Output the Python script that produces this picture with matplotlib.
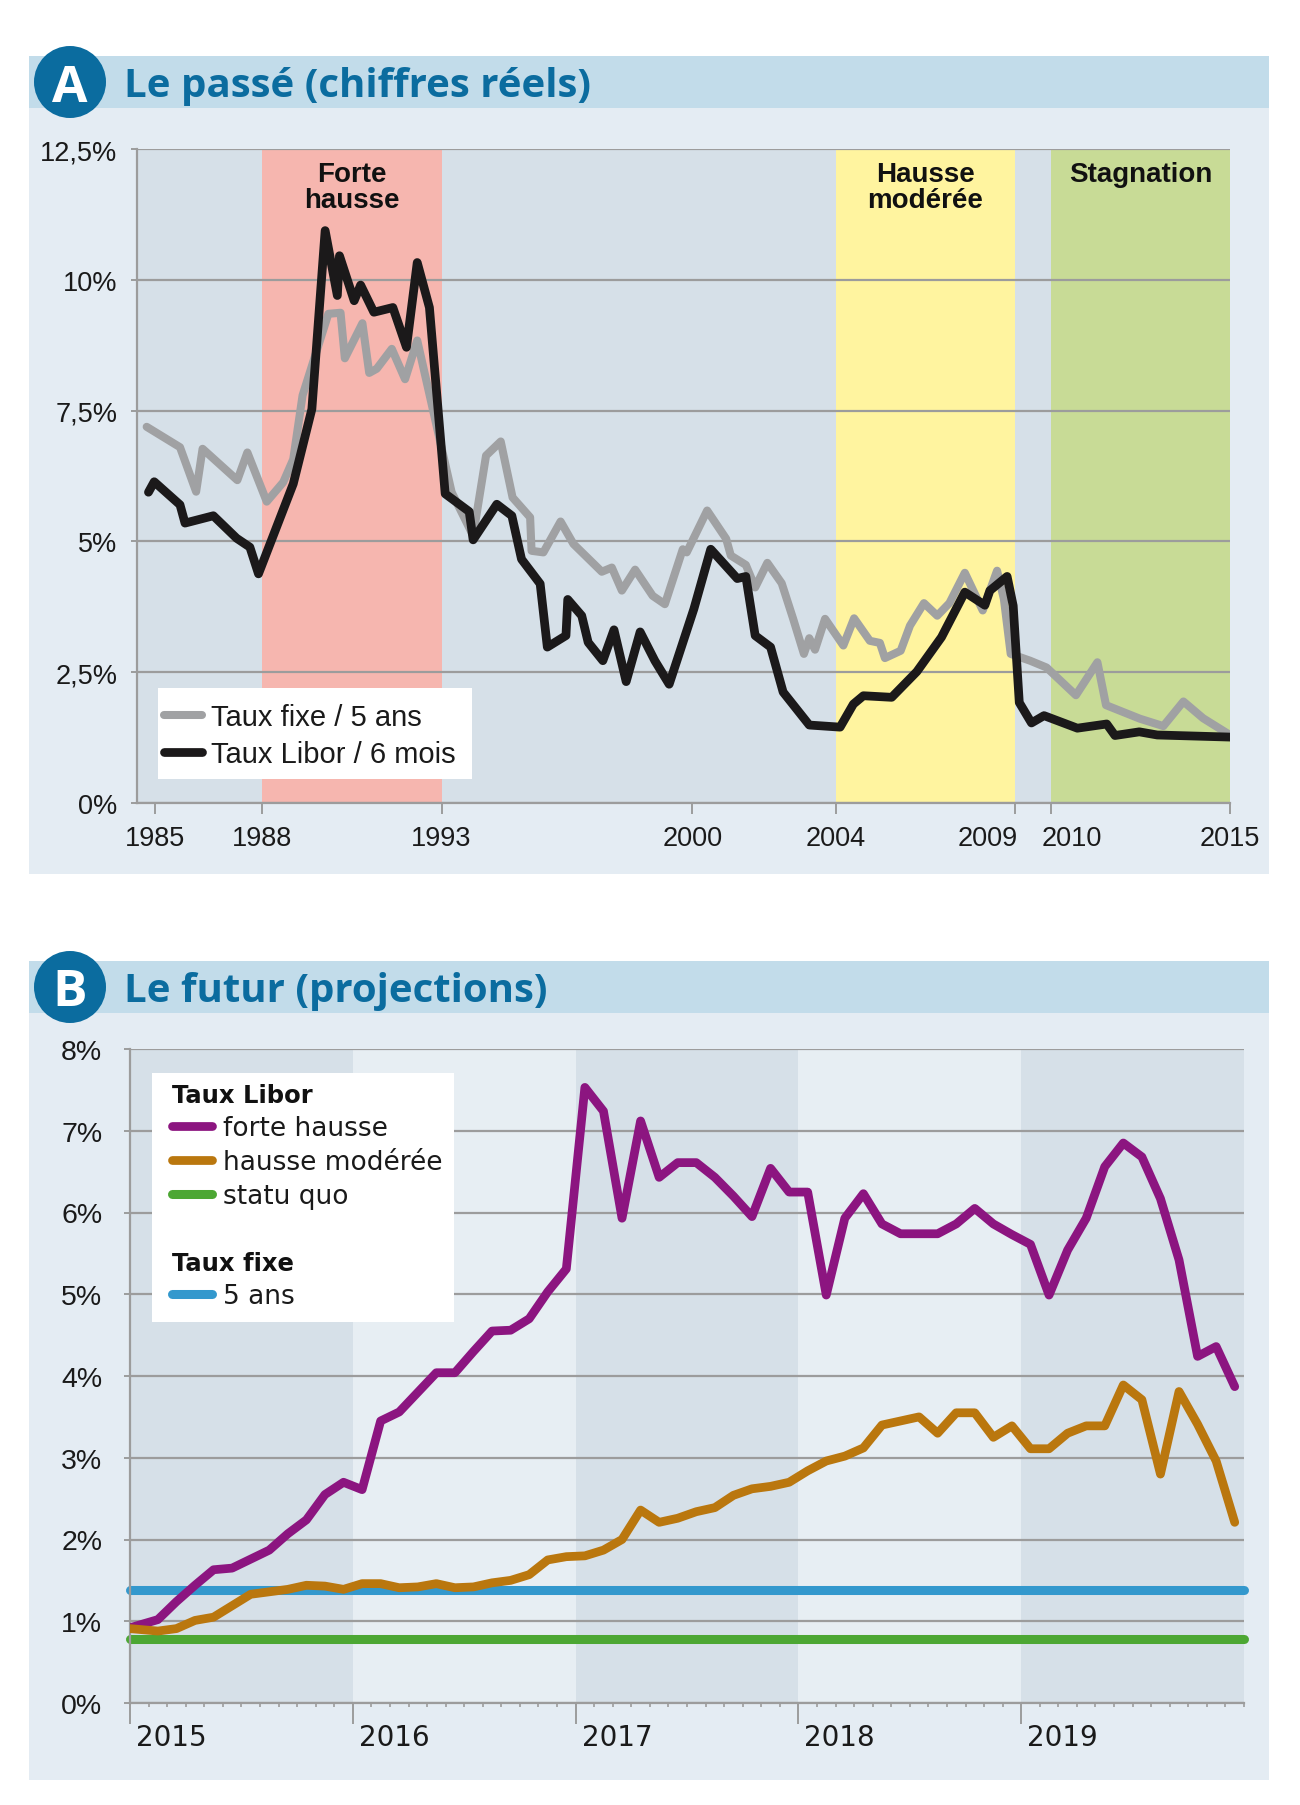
import numpy as np
import matplotlib
matplotlib.use('Agg')
import matplotlib.pyplot as plt
import matplotlib.transforms as mtransforms
from matplotlib.patches import Rectangle, Circle
from matplotlib.ticker import FixedLocator

plt.rcParams['font.family'] = ['Liberation Sans', 'DejaVu Sans']

# ---------------- Panel A data ----------------
fixe_years = [1984.77, 1985.70, 1986.15, 1986.33, 1987.30, 1987.58, 1988.12, 1988.58, 1988.86,
              1989.12, 1989.84, 1990.18, 1990.30, 1990.79, 1990.98, 1991.19, 1991.61, 1991.98,
              1992.32, 1993.28, 1993.88, 1994.24, 1994.65, 1994.98, 1995.47, 1995.51, 1995.84,
              1996.32, 1996.68, 1997.47, 1997.75, 1998.03, 1998.40, 1998.89, 1999.23, 1999.73,
              1999.84, 2000.41, 2000.94, 2001.07, 2001.49, 2001.75, 2002.09, 2002.49, 2002.81,
              2003.11, 2003.26, 2003.42, 2003.70, 2004.21, 2004.51, 2004.95, 2005.23, 2005.37,
              2005.81, 2006.07, 2006.46, 2006.83, 2007.17, 2007.60, 2008.10, 2008.50, 2008.69,
              2008.88, 2009.42, 2009.88, 2010.70, 2011.30, 2011.54, 2012.49, 2013.14, 2013.70,
              2014.25, 2015.00]
fixe_vals = [7.19, 6.80, 5.95, 6.77, 6.17, 6.70, 5.76, 6.13, 6.57,
             7.79, 9.35, 9.37, 8.50, 9.17, 8.22, 8.30, 8.68, 8.10,
             8.84, 5.94, 5.11, 6.64, 6.91, 5.84, 5.46, 4.82, 4.79,
             5.38, 4.95, 4.42, 4.50, 4.06, 4.46, 3.96, 3.80, 4.85,
             4.79, 5.59, 5.05, 4.73, 4.55, 4.12, 4.59, 4.20, 3.52,
             2.85, 3.15, 2.93, 3.52, 3.01, 3.53, 3.10, 3.06, 2.77,
             2.91, 3.39, 3.82, 3.58, 3.82, 4.40, 3.68, 4.44, 3.90,
             2.85, 2.72, 2.59, 2.06, 2.69, 1.87, 1.61, 1.47, 1.94,
             1.62, 1.30]

libor_years = [1984.82, 1984.98, 1985.70, 1985.84, 1986.63, 1987.28, 1987.65, 1987.89, 1988.86,
               1989.38, 1989.75, 1990.09, 1990.15, 1990.56, 1990.74, 1991.11, 1991.64, 1992.02,
               1992.32, 1992.66, 1993.10, 1993.77, 1993.88, 1994.54, 1994.96, 1995.23, 1995.75,
               1995.95, 1996.47, 1996.52, 1996.91, 1997.09, 1997.50, 1997.81, 1998.15, 1998.54,
               1998.95, 1999.35, 2000.04, 2000.51, 2001.25, 2001.49, 2001.75, 2002.18, 2002.53,
               2003.26, 2004.12, 2004.49, 2004.77, 2005.56, 2006.26, 2006.95, 2007.60, 2008.16,
               2008.30, 2008.78, 2008.95, 2009.12, 2009.46, 2009.81, 2010.74, 2011.56, 2011.79,
               2012.47, 2012.97, 2015.00]
libor_vals = [5.94, 6.14, 5.70, 5.35, 5.49, 5.06, 4.89, 4.38, 6.10,
              7.53, 10.94, 9.70, 10.46, 9.60, 9.90, 9.38, 9.47, 8.71,
              10.33, 9.47, 5.91, 5.57, 5.03, 5.71, 5.49, 4.66, 4.19,
              2.98, 3.20, 3.89, 3.58, 3.07, 2.72, 3.31, 2.32, 3.27,
              2.72, 2.27, 3.71, 4.85, 4.29, 4.33, 3.20, 2.98, 2.12,
              1.49, 1.45, 1.89, 2.05, 2.02, 2.51, 3.17, 4.03, 3.78,
              4.06, 4.33, 3.77, 1.92, 1.53, 1.67, 1.43, 1.51, 1.29,
              1.36, 1.30, 1.26]

a_xticks = [1985, 1988, 1993, 2000, 2004, 2009, 2010, 2015]
a_xlabels = ['1985', '1988', '1993', '2000', '2004', '2009', '2010', '2015']
a_yticks = [0, 2.5, 5, 7.5, 10, 12.5]
a_ylabels = ['0%', '2,5%', '5%', '7,5%', '10%', '12,5%']
period_start = [1988, 2004, 2010]
period_end = [1993, 2009, 2015]
period_label = ['Forte\nhausse', 'Hausse\nmodérée', 'Stagnation']
period_color = ['#F6B6AF', '#FFF49F', '#C8DB96']

# ---------------- Panel B data ----------------
b_months = [0.0] + list(np.arange(1.5, 60.0, 1.0))   # months after Jan 2015
forte_vals = [0.92, 1.02, 1.24, 1.44, 1.63, 1.65, 1.76, 1.87, 2.07, 2.24,
              2.55, 2.70, 2.61, 3.45, 3.56, 3.80, 4.04, 4.04, 4.30, 4.55,
              4.56, 4.70, 5.03, 5.31, 7.53, 7.24, 5.93, 7.12, 6.43, 6.61,
              6.61, 6.43, 6.20, 5.95, 6.54, 6.25, 6.25, 4.99, 5.93, 6.23,
              5.86, 5.74, 5.74, 5.74, 5.86, 6.05, 5.86, 5.73, 5.61, 4.99,
              5.54, 5.93, 6.56, 6.85, 6.68, 6.17, 5.42, 4.24, 4.36, 3.87]
moderee_vals = [0.91, 0.88, 0.91, 1.01, 1.05, 1.19, 1.33, 1.36, 1.39, 1.44,
                1.43, 1.39, 1.46, 1.46, 1.41, 1.42, 1.46, 1.41, 1.42, 1.47,
                1.50, 1.57, 1.75, 1.79, 1.80, 1.87, 2.00, 2.36, 2.21, 2.26,
                2.34, 2.39, 2.54, 2.62, 2.65, 2.70, 2.84, 2.96, 3.02, 3.12,
                3.40, 3.45, 3.50, 3.30, 3.55, 3.55, 3.25, 3.39, 3.11, 3.11,
                3.30, 3.39, 3.39, 3.89, 3.71, 2.80, 3.81, 3.41, 2.96, 2.21]
statu_quo_val = 0.78
fixe5_val = 1.38
b_years = [2015, 2016, 2017, 2018, 2019]
b_year_labels = ['2015', '2016', '2017', '2018', '2019']
b_yticks = [0, 1, 2, 3, 4, 5, 6, 7, 8]
b_ylabels = ['0%', '1%', '2%', '3%', '4%', '5%', '6%', '7%', '8%']

# ---------------- figure ----------------
W, H = 1300, 1806
fig = plt.figure(figsize=(W / 100, H / 100), dpi=100)
fig.patch.set_facecolor('white')
PX = mtransforms.Affine2D().scale(1.0 / W, -1.0 / H).translate(0, 1) + fig.transFigure

BLUE_DARK = '#0B6C9F'
HEADER = '#C2DCEA'
PANEL = '#E4ECF3'
PLOT_BG = '#D6E0E8'
PLOT_LIGHT = '#E7EEF3'
GRID = '#9C9C9C'
TITLE_FONT = ['Open Sans', 'DejaVu Sans']
VERD = ['DejaVu Sans']

bg = fig.add_axes([0, 0, 1, 1], zorder=-10)
bg.set_xlim(0, W)
bg.set_ylim(H, 0)
bg.axis('off')


def panel(top, body_bottom, letter, title):
    bg.add_patch(Rectangle((29, top + 52), 1240, body_bottom - top - 52, facecolor=PANEL, edgecolor='none'))
    bg.add_patch(Rectangle((29, top), 1240, 52, facecolor=HEADER, edgecolor='none'))
    cy = top + 26
    bg.add_patch(Circle((70, cy), 36, facecolor=BLUE_DARK, edgecolor='none'))
    bg.text(70, cy + 18.5, letter, color='white', fontsize=37, fontweight='bold',
            family=TITLE_FONT, ha='center', va='baseline')
    bg.text(124, cy + 14, title, color=BLUE_DARK, fontsize=29, fontweight='bold',
            family=TITLE_FONT, ha='left', va='baseline')


panel(57, 875, 'A', 'Le passé (chiffres réels)')
panel(962, 1781, 'B', 'Le futur (projections)')

# ---------------- Panel A axes ----------------
axA = fig.add_axes([137 / W, 1 - 804 / H, 1093 / W, 654 / H])
axA.set_facecolor(PLOT_BG)
axA.set_xlim(1984.5, 2015)
axA.set_ylim(0, 12.5)
for s, e, c in zip(period_start, period_end, period_color):
    axA.axvspan(s, e, facecolor=c, edgecolor='none', zorder=0.2)
axA.set_axisbelow(True)
axA.set_yticks(a_yticks)
axA.set_yticklabels(a_ylabels)
axA.set_xticks(a_xticks)
axA.set_xticklabels(a_xlabels)
axA.yaxis.grid(True, color=GRID, lw=1.6)
axA.xaxis.grid(False)
for sp in ['top', 'right']:
    axA.spines[sp].set_visible(False)
for sp in ['left', 'bottom']:
    axA.spines[sp].set_color(GRID)
    axA.spines[sp].set_linewidth(1.6)
axA.tick_params(axis='y', length=4, width=1.4, color=GRID, pad=10, labelsize=19.5, labelcolor='#1a1a1a')
axA.tick_params(axis='x', length=8, width=1.4, color=GRID, pad=8, labelsize=19.5, labelcolor='#1a1a1a')
# the two close labels 2009 / 2010 sit on either side of their ticks
for lbl in axA.get_xticklabels():
    if lbl.get_text() == '2009':
        lbl.set_horizontalalignment('right')
        lbl.set_transform(lbl.get_transform() + mtransforms.ScaledTranslation(3 / 100, 0, fig.dpi_scale_trans))
    elif lbl.get_text() == '2010':
        lbl.set_horizontalalignment('left')
        lbl.set_transform(lbl.get_transform() + mtransforms.ScaledTranslation(-9 / 100, 0, fig.dpi_scale_trans))

lf, = axA.plot(fixe_years, fixe_vals, color='#A0A1A3', lw=5.8, solid_joinstyle='round',
               solid_capstyle='round', zorder=2, label='Taux fixe / 5 ans')
ll, = axA.plot(libor_years, libor_vals, color='#1B191A', lw=6.3, solid_joinstyle='round',
               solid_capstyle='round', zorder=3, label='Taux Libor / 6 mois')

blendA = mtransforms.blended_transform_factory(axA.transData, PX)
for s, e, lab in zip(period_start, period_end, period_label):
    axA.text((s + e) / 2, 162, lab, transform=blendA, ha='center', va='top',
             fontsize=20, fontweight='bold', color='#111111', linespacing=1.0, zorder=6)

axA.add_patch(Rectangle((158, 689), 314, 91, transform=PX, facecolor='white',
                        edgecolor='none', zorder=4, clip_on=False))
legA = axA.legend(handles=[lf, ll], loc='upper left', bbox_to_anchor=(164, 704),
                  bbox_transform=PX, frameon=False, borderpad=0, borderaxespad=0,
                  handlelength=1.3, handletextpad=0.32, labelspacing=0.30,
                  prop={'family': ['Liberation Sans', 'DejaVu Sans'], 'size': 21})
legA.set_zorder(5)
for t in legA.get_texts():
    t.set_color('#1a1a1a')

# ---------------- Panel B axes ----------------
axB = fig.add_axes([130 / W, 1 - 1704 / H, 1114 / W, 654 / H])
axB.set_facecolor('none')
axB.set_xlim(2015, 2020)
axB.set_ylim(0, 8)
for i, y in enumerate(b_years):
    axB.axvspan(y, y + 1, facecolor=PLOT_BG if i % 2 == 0 else PLOT_LIGHT, edgecolor='none', zorder=0.2)
axB.set_axisbelow(True)
axB.set_yticks(b_yticks)
axB.set_yticklabels(b_ylabels)
axB.yaxis.grid(True, color=GRID, lw=1.6)
axB.xaxis.set_major_locator(FixedLocator(b_years))
axB.xaxis.set_minor_locator(FixedLocator([2015 + k / 12 for k in range(61)]))
axB.set_xticklabels([])
for sp in ['top', 'right']:
    axB.spines[sp].set_visible(False)
for sp in ['left', 'bottom']:
    axB.spines[sp].set_color(GRID)
    axB.spines[sp].set_linewidth(1.6)
axB.tick_params(axis='y', length=4, width=1.4, color=GRID, pad=16, labelsize=20.5, labelcolor='#1a1a1a')
axB.tick_params(axis='x', which='major', length=15, width=1.4, color=GRID, pad=0)
axB.tick_params(axis='x', which='minor', length=3, width=1.2, color=GRID)

bx = [2015 + m / 12 for m in b_months]
lp, = axB.plot(bx, forte_vals, color='#8C1580', lw=6.3, solid_joinstyle='round',
               solid_capstyle='round', zorder=3, label='forte hausse')
lo, = axB.plot(bx, moderee_vals, color='#BA770E', lw=6.3, solid_joinstyle='round',
               solid_capstyle='round', zorder=3, label='hausse modérée')
lg, = axB.plot([2015, 2020], [statu_quo_val, statu_quo_val], color='#4CA733', lw=6.5,
               solid_capstyle='round', zorder=2, clip_on=False, label='statu quo')
lb, = axB.plot([2015, 2020], [fixe5_val, fixe5_val], color='#3398CD', lw=6.5,
               solid_capstyle='round', zorder=2, clip_on=False, label='5 ans')

blendB = mtransforms.blended_transform_factory(axB.transData, PX) + \
    mtransforms.ScaledTranslation(6 / 100, 0, fig.dpi_scale_trans)
for y, lab in zip(b_years, b_year_labels):
    axB.text(y, 1724, lab, transform=blendB, ha='left', va='top', fontsize=20,
             family=VERD, color='#1a1a1a', clip_on=False)

axB.add_patch(Rectangle((152, 1074), 302, 249, transform=PX, facecolor='white',
                        edgecolor='none', zorder=4, clip_on=False))
leg_kw = dict(loc='upper left', bbox_transform=PX, frameon=False, borderpad=0, borderaxespad=0,
              handlelength=1.5, handletextpad=0.45, labelspacing=0.30, alignment='left',
              prop={'family': VERD, 'size': 19},
              title_fontproperties={'family': VERD, 'weight': 'bold', 'size': 17.5})
legB1 = axB.legend(handles=[lp, lo, lg], title='Taux Libor', bbox_to_anchor=(172, 1084), **leg_kw)
legB1.set_zorder(5)
axB.add_artist(legB1)
legB2 = axB.legend(handles=[lb], title='Taux fixe', bbox_to_anchor=(172, 1252), **leg_kw)
legB2.set_zorder(5)
for lg_ in (legB1, legB2):
    for t in lg_.get_texts():
        t.set_color('#1a1a1a')
    lg_.get_title().set_color('#111111')

fig.savefig('out.png', dpi=100, facecolor='white')
